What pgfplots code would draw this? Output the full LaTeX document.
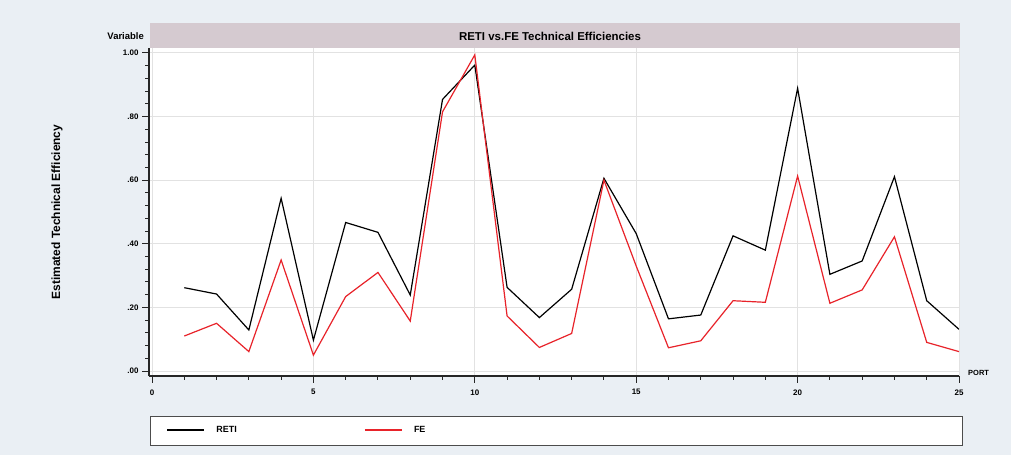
\documentclass[border=0pt]{standalone}
\usepackage{fontspec}
\setmainfont{Liberation Sans}
\usepackage{pgfplots}
\pgfplotsset{compat=1.18}
\usepackage{pgfplotstable}
\definecolor{bg}{HTML}{EAEFF4}
\definecolor{band}{HTML}{D5CAD0}
\definecolor{fered}{HTML}{E8232A}
\definecolor{gridc}{HTML}{E2E2E2}
\definecolor{axc}{HTML}{262626}

\pgfplotstableread{
port reti fe
1 0.262 0.110
2 0.242 0.150
3 0.129 0.061
4 0.543 0.349
5 0.097 0.050
6 0.467 0.234
7 0.436 0.310
8 0.239 0.157
9 0.854 0.815
10 0.962 0.994
11 0.263 0.173
12 0.168 0.074
13 0.257 0.118
14 0.606 0.600
15 0.432 0.330
16 0.164 0.073
17 0.176 0.095
18 0.425 0.221
19 0.380 0.216
20 0.889 0.613
21 0.304 0.213
22 0.346 0.255
23 0.611 0.422
24 0.221 0.090
25 0.131 0.061
}\datatable

\begin{document}
\begin{tikzpicture}[x=1bp,y=1bp]
\fill[bg] (0,0) rectangle (1011,455);
\useasboundingbox (0,0) rectangle (1011,455);
\fill[band] (150,407) rectangle (960,432);
\node[font=\bfseries\fontsize{11.5}{13}\selectfont] at (550,418.5) {RETI vs.FE Technical Efficiencies};
\node[anchor=east, font=\bfseries\fontsize{9.5}{11}\selectfont, inner sep=0pt] at (144,418.5) {Variable};
\draw[gray!60!black, line width=0.8bp, fill=white] (150,10) rectangle (962,39);
\node[rotate=90, font=\bfseries\fontsize{12}{14}\selectfont] at (57,243) {Estimated Technical Efficiency};
\node[anchor=west, font=\bfseries\fontsize{7.5}{9}\selectfont, inner sep=0pt] at (968,82) {PORT};

\begin{axis}[
  at={(149bp,79bp)}, anchor=south west,
  scale only axis, width=810bp, height=328bp,
  xmin=-0.093, xmax=25, ymin=-0.0157, ymax=1.0157,
  axis background/.style={fill=white},
  axis x line*=bottom, axis y line*=left,
  axis line style={-, line width=1.4bp, axc},
  xtick={0,5,10,15,20,25}, minor x tick num=4,
  ytick={0,0.2,0.4,0.6,0.8,1.0},
  yticklabels={.00,.20,.40,.60,.80,1.00},
  minor y tick num=4,
  tick align=outside,
  major tick length=7bp, minor tick length=4bp,
  every tick/.style={line width=1bp, axc},
  xmajorgrids, ymajorgrids,
  major grid style={gridc, line width=1bp},
  /pgf/number format/assume math mode=true,
  tick label style={font=\bfseries\fontsize{8}{9}\selectfont},
  xticklabel style={yshift=-3bp},
  legend columns=2,
  legend style={at={(axis description cs:0.021,-0.165)}, anchor=west,
    draw=none, fill=none, inner sep=0pt,
    font=\bfseries\fontsize{9}{10}\selectfont,
    /tikz/every odd column/.append style={column sep=9bp},
    /tikz/every even column/.append style={column sep=125bp}},
  legend cell align=left,
  legend image code/.code={\draw[#1, line width=2.2bp] (0bp,0bp) -- (37bp,0bp);},
]
\addplot[black, line width=1.2bp, no marks] table[x=port, y=reti] {\datatable};
\addlegendentry{RETI}
\addplot[fered, line width=1.2bp, no marks] table[x=port, y=fe] {\datatable};
\addlegendentry{FE}
\end{axis}
\end{tikzpicture}
\end{document}
